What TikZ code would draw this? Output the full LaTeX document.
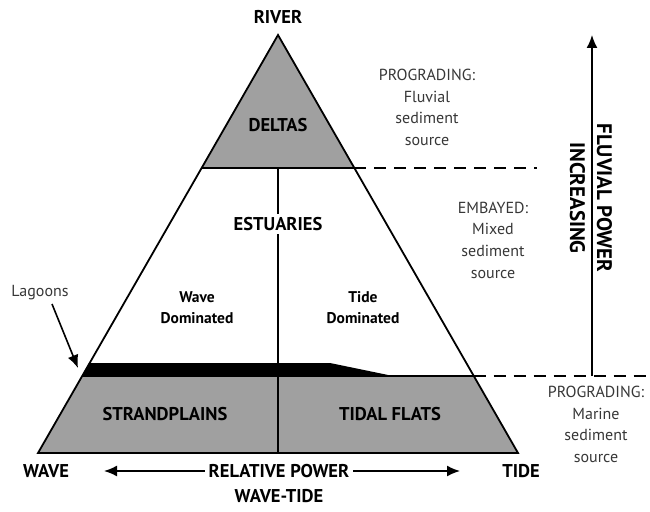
\documentclass[tikz,border=0pt]{standalone}
\usepackage{fontspec}
\setmainfont{PT Sans}
\usetikzlibrary{arrows.meta}
\definecolor{fillgray}{RGB}{160,160,160}
\definecolor{txtgray}{RGB}{55,55,55}
\tikzset{
  edge/.style={line width=1.8pt, line join=miter},
  boldlbl/.style={font=\bfseries\fontsize{18.5}{20}\selectfont, inner sep=1pt},
  smalllbl/.style={font=\bfseries\fontsize{15.5}{21}\selectfont, align=center, inner sep=1pt},
  graytxt/.style={font=\fontsize{16}{21.7}\selectfont, text=txtgray, align=center, inner sep=1pt},
  dashline/.style={line width=1.6pt, dash pattern=on 12pt off 8pt},
  arr/.style={line width=1.6pt, -{Latex[length=13pt,width=11pt]}}
}
\begin{document}
\begin{tikzpicture}[x=1pt,y=-1pt]
\useasboundingbox (0,0) rectangle (650,511);
% geometry
\coordinate (A) at (278,35);
\coordinate (DL) at (201.7,168);
\coordinate (DR) at (354.3,168);
\coordinate (SL) at (82.3,376);
\coordinate (SR) at (473.7,376);
\coordinate (BL) at (38,453);
\coordinate (BR) at (518,453);
\coordinate (DM) at (278,168);
\coordinate (BM) at (278,453);
% fills
\fill[fillgray] (A) -- (DL) -- (DR) -- cycle;
\fill[fillgray] (SL) -- (SR) -- (BR) -- (BL) -- cycle;
\fill[black] (89.7,363) -- (330,363) -- (393,376) -- (SL) -- cycle;
% outlines
\draw[edge] (A) -- (BL) -- (BR) -- cycle;
\draw[edge] (DL) -- (DR);
\draw[edge] (SL) -- (SR);
\draw[edge] (DM) -- (BM);
% dashed lines
\coordinate (D1) at (537,168);
\coordinate (D2) at (650,376);
\draw[dashline] (DR) -- (D1);
\draw[dashline] (SR) -- (D2);
% fluvial arrow
\coordinate (F0) at (592,376);
\coordinate (F1) at (592,35);
\draw[arr] (F0) -- (F1);
\node[font=\bfseries\fontsize{21}{27}\selectfont, align=center, rotate=-90, inner sep=0pt] (fluv) at (591,198) {FLUVIAL POWER\\INCREASING};
% labels
\node[boldlbl] (river) at (278,17) {RIVER};
\node[boldlbl] (deltas) at (278,125) {DELTAS};
\node[boldlbl, fill=white, inner sep=3pt] (estuaries) at (278,224) {ESTUARIES};
\node[smalllbl] (wavedom) at (197,308) {Wave\\Dominated};
\node[smalllbl] (tidedom) at (363,308) {Tide\\Dominated};
\node[boldlbl] (strand) at (165,414) {STRANDPLAINS};
\node[boldlbl] (tidal) at (390,414) {TIDAL FLATS};
\node[boldlbl] (wave) at (46,471) {WAVE};
\node[boldlbl] (tide) at (521,471) {TIDE};
\node[boldlbl, inner sep=4pt] (relp) at (279,471) {RELATIVE POWER};
\node[boldlbl] (wavetide) at (279,496) {WAVE-TIDE};
\coordinate (RL) at (104,471);
\coordinate (RR) at (460,471);
\draw[arr] (relp.west) -- (RL);
\draw[arr] (relp.east) -- (RR);
\node[graytxt] (prog1) at (427,107.5) {PROGRADING:\\Fluvial\\sediment\\source};
\node[graytxt] (emb) at (493,240) {EMBAYED:\\Mixed\\sediment\\source};
\node[graytxt] (prog2) at (596,424.5) {PROGRADING:\\Marine\\sediment\\source};
\node[graytxt] (lag) at (40,293) {Lagoons};
\coordinate (LS) at (52,304);
\coordinate (LT) at (78,368);
\draw[arr] (LS) -- (LT);
\end{tikzpicture}
\end{document}
